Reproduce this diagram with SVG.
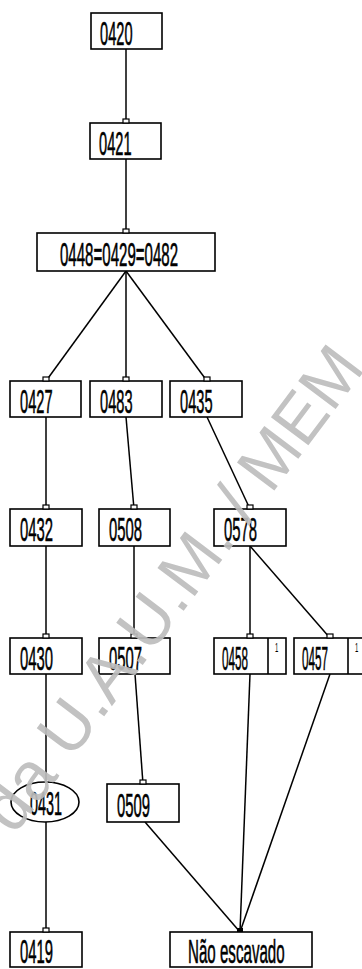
<svg xmlns="http://www.w3.org/2000/svg" width="362" height="969" viewBox="0 0 362 969">
<style>
.b{fill:#fff;stroke:#000;stroke-width:1.6}
.t{font-family:"Liberation Sans",Arial,sans-serif;font-size:34px;fill:#000;stroke:#000;stroke-width:0.6}
.s{font-family:"Liberation Sans",Arial,sans-serif;font-size:12px;fill:#000}
.c line{stroke:#000;stroke-width:1.5}
.m{fill:#fff;stroke:#000;stroke-width:1.2}
.wm{font-family:"Liberation Sans",Arial,sans-serif;font-size:68px;fill:#bdbdbd;opacity:0.92}
</style>
<rect width="362" height="969" fill="#fff"/>
<g id="connectors" class="c">
<line x1="126" y1="49" x2="126" y2="123"/>
<line x1="126" y1="159" x2="126" y2="233"/>
<line x1="126" y1="271" x2="46" y2="381"/>
<line x1="126" y1="271" x2="126" y2="381"/>
<line x1="126" y1="271" x2="207" y2="381"/>
<line x1="46" y1="417" x2="46" y2="509"/>
<line x1="126" y1="417" x2="134" y2="509"/>
<line x1="207" y1="417" x2="250" y2="509"/>
<line x1="46" y1="546" x2="46" y2="638"/>
<line x1="134" y1="546" x2="134" y2="638"/>
<line x1="250" y1="546" x2="250" y2="638"/>
<line x1="250" y1="546" x2="330" y2="638"/>
<line x1="46" y1="674" x2="46" y2="782"/>
<line x1="135" y1="674" x2="143" y2="784"/>
<line x1="46" y1="822" x2="46" y2="932"/>
<line x1="145" y1="822" x2="240" y2="932"/>
<line x1="250" y1="674" x2="240" y2="932"/>
<line x1="330" y1="674" x2="240" y2="932"/>
</g>
<g id="n0420"><rect class="b" x="91" y="13" width="71" height="36"/><text class="t" transform="translate(100,45) scale(0.43,1)">0420</text></g>
<g id="n0421"><rect class="b" x="90" y="123" width="71" height="36"/><rect class="m" x="123" y="119" width="6" height="4"/><text class="t" transform="translate(99,155) scale(0.43,1)">0421</text></g>
<g id="n0448"><rect class="b" x="37" y="233" width="178" height="38"/><rect class="m" x="123" y="229" width="6" height="4"/><text class="t" transform="translate(60,266) scale(0.443,1)">0448=0429=0482</text></g>
<g id="n0427"><rect class="b" x="10" y="381" width="71" height="36"/><rect class="m" x="43" y="377" width="6" height="4"/><text class="t" transform="translate(20,413) scale(0.43,1)">0427</text></g>
<g id="n0483"><rect class="b" x="90" y="381" width="72" height="36"/><rect class="m" x="123" y="377" width="6" height="4"/><text class="t" transform="translate(100,413) scale(0.43,1)">0483</text></g>
<g id="n0435"><rect class="b" x="170" y="381" width="72" height="36"/><rect class="m" x="204" y="377" width="6" height="4"/><text class="t" transform="translate(180,413) scale(0.43,1)">0435</text></g>
<g id="n0432"><rect class="b" x="10" y="509" width="72" height="37"/><rect class="m" x="43" y="505" width="6" height="4"/><text class="t" transform="translate(20,541) scale(0.437,1)">0432</text></g>
<g id="n0508"><rect class="b" x="99" y="509" width="71" height="37"/><rect class="m" x="131" y="505" width="6" height="4"/><text class="t" transform="translate(109,541) scale(0.437,1)">0508</text></g>
<g id="n0578"><rect class="b" x="214" y="509" width="72" height="37"/><rect class="m" x="247" y="505" width="6" height="4"/><text class="t" transform="translate(224,541) scale(0.437,1)">0578</text></g>
<g id="n0430"><rect class="b" x="10" y="638" width="72" height="36"/><rect class="m" x="43" y="634" width="6" height="4"/><text class="t" transform="translate(20,670) scale(0.437,1)">0430</text></g>
<g id="n0507"><rect class="b" x="99" y="638" width="71" height="36"/><rect class="m" x="131" y="634" width="6" height="4"/><text class="t" transform="translate(109,670) scale(0.437,1)">0507</text></g>
<g id="n0458"><rect class="b" x="214" y="638" width="72" height="36"/><line x1="268" y1="638" x2="268" y2="674" stroke="#000" stroke-width="1.6"/><rect class="m" x="247" y="634" width="6" height="4"/><text class="t" transform="translate(222,670) scale(0.344,1)">0458</text><text class="s" transform="translate(275,652) scale(0.5,1)">1</text></g>
<g id="n0457"><rect class="b" x="294" y="638" width="72" height="36"/><line x1="348" y1="638" x2="348" y2="674" stroke="#000" stroke-width="1.6"/><rect class="m" x="327" y="634" width="6" height="4"/><text class="t" transform="translate(302,670) scale(0.344,1)">0457</text><text class="s" transform="translate(355,652) scale(0.5,1)">1</text></g>
<g id="n0431"><ellipse class="b" cx="45" cy="802" rx="34" ry="20"/><text class="t" transform="translate(30,815) scale(0.423,1)">0431</text></g>
<g id="n0509"><rect class="b" x="107" y="784" width="72" height="38"/><rect class="m" x="140" y="780" width="6" height="4"/><text class="t" transform="translate(117,817) scale(0.437,1)">0509</text></g>
<g id="n0419"><rect class="b" x="10" y="932" width="72" height="35"/><rect class="m" x="43" y="928" width="6" height="4"/><text class="t" transform="translate(20,963) scale(0.437,1)">0419</text></g>
<g id="nNaoEscavado"><rect class="b" x="170" y="932" width="142" height="35"/><rect x="237" y="928" width="6" height="4" fill="#000"/><text class="t" transform="translate(188,963) scale(0.445,1)">Não escavado</text></g>
<text class="wm" transform="translate(14,836) rotate(-53)">da U.A.U.M. / MEM</text>
</svg>
